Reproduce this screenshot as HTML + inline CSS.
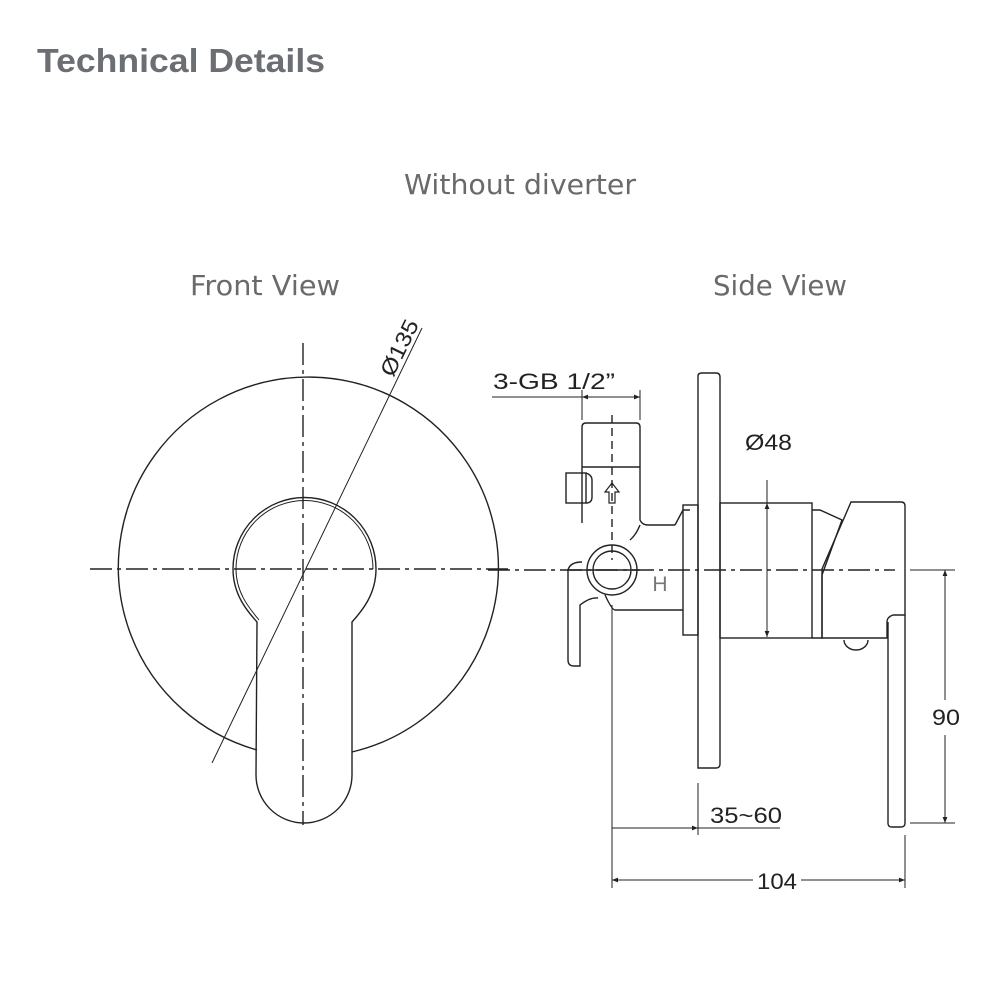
<!DOCTYPE html>
<html><head><style>
html,body{margin:0;padding:0;background:#fff;}
svg{display:block;}
</style></head><body>
<svg width="1000" height="1000" viewBox="0 0 1000 1000" xmlns="http://www.w3.org/2000/svg">
<defs>
<marker id="ar" viewBox="0 0 10 10" refX="10" refY="5" markerWidth="10" markerHeight="6" orient="auto-start-reverse" markerUnits="userSpaceOnUse"><path d="M0,1 L10,5 L0,9 Z" fill="#222"/></marker>
</defs>
<text x="37" y="72" font-family="Liberation Sans, sans-serif" font-weight="bold" font-size="33" fill="#6b6e73" textLength="288" lengthAdjust="spacingAndGlyphs">Technical Details</text>
<g font-family="DejaVu Sans, Liberation Sans, sans-serif" font-size="28" fill="#6a6a6a" text-anchor="middle">
<text x="520" y="194" textLength="232" lengthAdjust="spacingAndGlyphs">Without diverter</text>
<text x="265" y="295" textLength="150" lengthAdjust="spacingAndGlyphs">Front View</text>
<text x="780" y="295" textLength="134" lengthAdjust="spacingAndGlyphs">Side View</text>
</g>
<g fill="none" stroke="#222" stroke-width="1.4">
<path d="M257,750 A190,190 0 1 1 352,752"/>
<path d="M257,622 C248,612 233,595 233,569 A71,71 0 1 1 376,569 C376,595 361,612 352,622 L352,775 A48,48 0 0 1 256,775 Z"/>
<path d="M259,620 C251,610 236,594 236,569 A68,68 0 1 1 373,569" stroke-width="1"/>
<line x1="90" y1="569" x2="513" y2="569" stroke-dasharray="22,5,4,5"/>
<line x1="303" y1="343" x2="303" y2="825" stroke-dasharray="22,5,4,5"/>
<line x1="212" y1="763" x2="422" y2="328" stroke-width="1"/>
<line x1="492" y1="397" x2="640" y2="397" stroke-width="1"/>
<line x1="582" y1="397" x2="640" y2="397" stroke-width="1" marker-start="url(#ar)" marker-end="url(#ar)"/>
<line x1="582" y1="390" x2="582" y2="420" stroke-width="1"/>
<line x1="640" y1="390" x2="640" y2="420" stroke-width="1"/>
<path d="M582,523 L582,427 Q582,423 586,423 L636,423 Q640,423 640,427 L640,520 Q642,525 648,525 L675,525"/>
<line x1="582" y1="467" x2="640" y2="467"/>
<rect x="566" y="473" width="20" height="30"/>
<path d="M586,473 Q592,475 592,480 L592,497 Q592,503 586,503"/>
<line x1="612" y1="415" x2="612" y2="560" stroke-dasharray="8,5"/>
<path d="M609,503 L609,492 L605,492 L612,483 L619,492 L615,492 L615,503 Z" stroke-width="1.2"/>
<path d="M640,525 Q636,535 630,540"/>
<circle cx="612" cy="570" r="25"/>
<circle cx="612" cy="570" r="19"/>
<path d="M582,562 Q570,562 568,570 L568,660 Q568,666 574,666 L580,666 L580,605 Q590,597 598,598"/>
<line x1="567" y1="570" x2="640" y2="570"/>
<path d="M605,595 Q612,610 615,610 L683,610"/>
<path d="M675,525 L683,510 L690,510"/>
<rect x="683" y="505" width="15" height="130"/>
<path d="M698,768 L698,376 Q698,373 702,373 L716,373 Q720,373 720,377 L720,764 Q720,768 716,768 Z"/>
<rect x="720" y="503" width="92" height="135"/>
<line x1="767" y1="480" x2="767" y2="637" stroke-width="1" />
<line x1="767" y1="520" x2="767" y2="503" stroke-width="1" marker-end="url(#ar)"/>
<line x1="767" y1="620" x2="767" y2="637" stroke-width="1" marker-end="url(#ar)"/>
<path d="M812,510 L820,510 L842,520 L822,575 L822,638 L812,638"/>
<path d="M851,502 L901,502 Q905,502 905,506 L905,615 L893,615 Q887,617 887,622 L887,638 L822,638 L822,569 Z"/>
<path d="M888,622 L888,823 Q888,827 892,827 L901,827 Q905,827 905,823 L905,615"/>
<path d="M844,640 A12,10 0 0 0 868,640"/>
<line x1="488" y1="570" x2="895" y2="570" stroke-dasharray="22,5,4,5"/>
<line x1="910" y1="570" x2="955" y2="570" stroke-width="1"/>
<line x1="910" y1="823" x2="955" y2="823" stroke-width="1"/>
<line x1="945" y1="700" x2="945" y2="570" stroke-width="1" marker-end="url(#ar)"/>
<line x1="945" y1="735" x2="945" y2="823" stroke-width="1" marker-end="url(#ar)"/>
<line x1="612" y1="605" x2="612" y2="888" stroke-width="1"/>
<line x1="698" y1="783" x2="698" y2="835" stroke-width="1"/>
<line x1="905" y1="835" x2="905" y2="888" stroke-width="1"/>
<line x1="612" y1="828" x2="780" y2="828" stroke-width="1"/>
<line x1="612" y1="828" x2="698" y2="828" stroke-width="1" marker-end="url(#ar)"/>
<line x1="753" y1="880" x2="612" y2="880" stroke-width="1" marker-end="url(#ar)"/>
<line x1="801" y1="880" x2="905" y2="880" stroke-width="1" marker-end="url(#ar)"/>
</g>
<g font-family="Liberation Sans, sans-serif" font-size="22" fill="#222" lengthAdjust="spacingAndGlyphs">
<text x="493" y="389" textLength="122" lengthAdjust="spacingAndGlyphs">3-GB 1/2”</text>
<text x="745" y="450" textLength="47" lengthAdjust="spacingAndGlyphs">Ø48</text>
<text x="932" y="725" textLength="28" lengthAdjust="spacingAndGlyphs">90</text>
<text x="710" y="823" textLength="72" lengthAdjust="spacingAndGlyphs">35~60</text>
<text x="757" y="889" textLength="40" lengthAdjust="spacingAndGlyphs">104</text>
<text x="0" y="0" transform="translate(393,378) rotate(-64)" textLength="60" lengthAdjust="spacingAndGlyphs">Ø135</text>
</g>
<text x="660" y="591" font-family="Liberation Sans, sans-serif" font-size="21" fill="#777" text-anchor="middle">H</text>
</svg>
</body></html>
